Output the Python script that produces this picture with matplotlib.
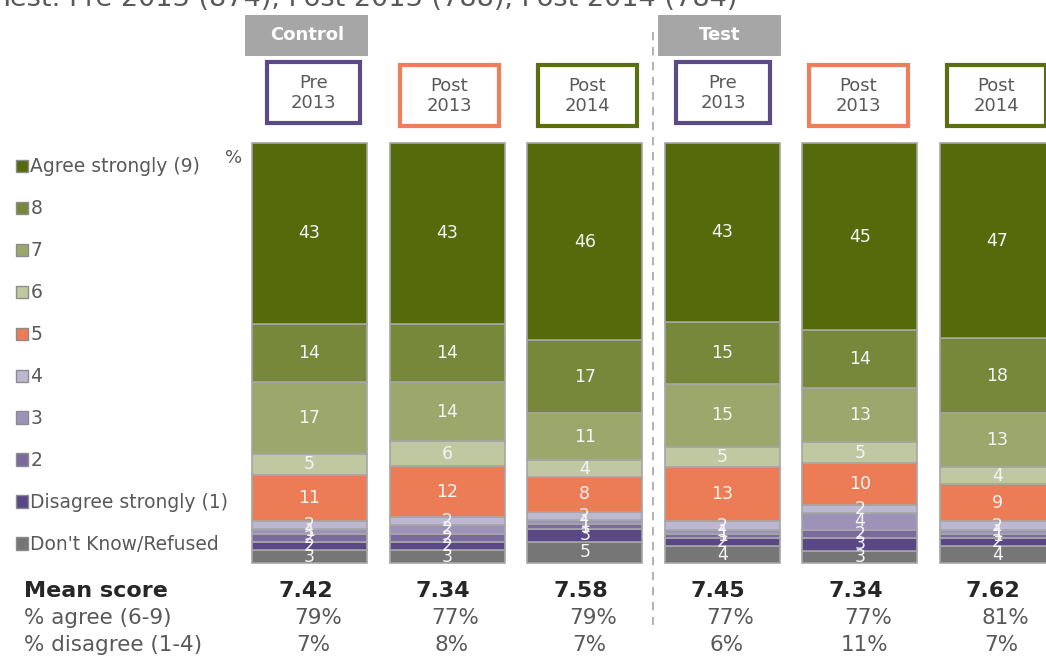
import matplotlib
matplotlib.use("Agg")
import matplotlib.pyplot as plt
from matplotlib.patches import Rectangle, Patch
from matplotlib.lines import Line2D
from matplotlib.transforms import blended_transform_factory

plt.rcParams['font.family'] = ['DejaVu Sans']

# survey waves (one stacked bar each)
groups = ["Control", "Test"]
waves = ["Pre\n2013", "Post\n2013", "Post\n2014", "Pre\n2013", "Post\n2013", "Post\n2014"]

# answer categories, bottom of the stack first
categories = ["Don't Know/Refused", "Disagree strongly (1)", "2", "3", "4",
              "5", "6", "7", "8", "Agree strongly (9)"]

dk = [3, 3, 5, 4, 3, 4]
s1 = [2, 2, 3, 2, 3, 2]
s2 = [2, 2, 1, 1, 2, 1]
s3 = [1, 2, 1, 1, 4, 1]
s4 = [2, 2, 2, 2, 2, 2]
s5 = [11, 12, 8, 13, 10, 9]
s6 = [5, 6, 4, 5, 5, 4]
s7 = [17, 14, 11, 15, 13, 13]
s8 = [14, 14, 17, 15, 14, 18]
s9 = [43, 43, 46, 43, 45, 47]
series = [dk, s1, s2, s3, s4, s5, s6, s7, s8, s9]

mean_score = ["7.42", "7.34", "7.58", "7.45", "7.34", "7.62"]
pct_agree = ["79%", "77%", "79%", "77%", "77%", "81%"]
pct_disagree = ["7%", "8%", "7%", "6%", "11%", "7%"]

base_note = "Test: Pre 2013 (874), Post 2013 (788), Post 2014 (784)"

colors = ["#767676", "#5a4786", "#7b6a9e", "#9d93b8", "#bdb7d1",
          "#ec7c55", "#c0c8a2", "#9ba76b", "#77883a", "#556a0b"]
wave_colors = ["#5b4a87", "#ef7f5a", "#5b6e10"] * 2
edge = "#a6a6a6"
text_grey = "#595959"

W, H = 1046, 657
fig = plt.figure(figsize=(W / 100, H / 100), dpi=100)

# bars: centres 137.6 px apart, plot area from y=143 to y=563 px
step = 137.6
x_left = 309.5 - step / 2
ax = fig.add_axes([x_left / W, 1 - 563 / H, 6 * step / W, 420 / H])
ax.set_xlim(-0.5, 5.5)
ax.set_ylim(0, 100)
ax.axis("off")

xs = list(range(len(waves)))
# 100% stacked: each bar scaled by its own total
totals = [sum(col) for col in zip(*series)]
bottoms = [0.0] * len(xs)
handles = []
for vals, col, cat in zip(series, colors, categories):
    shares = [v / t * 100 for v, t in zip(vals, totals)]
    ax.bar(xs, shares, width=0.836, bottom=bottoms, color=col,
           edgecolor=edge, linewidth=1.2, label=cat, clip_on=False)
    for x, v, sh, b in zip(xs, vals, shares, bottoms):
        ax.text(x, b + sh / 2, str(v), ha="center", va="center",
                color="#f4f4f4", fontsize=12.5)
    bottoms = [b + sh for b, sh in zip(bottoms, shares)]
    handles.append(Patch(facecolor=col, edgecolor="#8c8c8c", linewidth=1, label=cat))

tr = blended_transform_factory(ax.transData, fig.transFigure)

def fy(py):
    return 1 - py / H

# group headers
for g, x in zip(groups, [0, 3]):
    ax.add_patch(Rectangle((x - 0.47, fy(56)), 0.894, 41 / H, transform=tr,
                           facecolor="#a6a6a6", edgecolor="none", clip_on=False))
    ax.text(x - 0.02, fy(35.5), g, transform=tr, ha="center", va="center",
            color="white", fontsize=13, fontweight="bold")

# wave boxes
box_top = [62, 65, 65, 62, 65, 65]
box_dx = [0.03, 0.015, 0.02, 0.005, -0.01, -0.01]
for x, lab, col, top, dx in zip(xs, waves, wave_colors, box_top, box_dx):
    w = 0.68 if lab.startswith("Pre") else 0.72
    ax.add_patch(Rectangle((x + dx - w / 2, fy(top + 61)), w, 61 / H, transform=tr,
                           facecolor="white", edgecolor=col, linewidth=3, clip_on=False))
    ax.text(x + dx, fy(top + 31), lab, transform=tr, ha="center", va="center",
            color=text_grey, fontsize=13, linespacing=1.15)

# divider between control and test
fig.add_artist(Line2D([653 / W, 653 / W], [fy(32), fy(625)], color="#a6a6a6",
                      linestyle=(0, (5, 4)), linewidth=1.2))

# legend, top category first
fig.legend(handles=handles[::-1], loc="upper left", bbox_to_anchor=(8 / W, fy(150)),
           frameon=False, fontsize=13.5, handlelength=0.65, handleheight=0.65,
           handletextpad=0.15, labelspacing=1.225, borderaxespad=0,
           labelcolor=text_grey)
fig.text(234 / W, fy(158), "%", ha="center", va="center", color=text_grey, fontsize=13)

# summary rows
fig.text(24 / W, fy(591), "Mean score", ha="left", va="center",
         color="#262626", fontsize=16, fontweight="bold")
fig.text(24 / W, fy(618), "% agree (6-9)", ha="left", va="center",
         color=text_grey, fontsize=15.5)
fig.text(24 / W, fy(645), "% disagree (1-4)", ha="left", va="center",
         color=text_grey, fontsize=15.5)
for x, m, a, d in zip(xs, mean_score, pct_agree, pct_disagree):
    ax.text(x - 0.03, fy(591), m, transform=tr, ha="center", va="center",
            color="#262626", fontsize=16, fontweight="bold", clip_on=False)
    ax.text(x + 0.06, fy(618), a, transform=tr, ha="center", va="center",
            color=text_grey, fontsize=15.5, clip_on=False)
    ax.text(x + 0.03, fy(645), d, transform=tr, ha="center", va="center",
            color=text_grey, fontsize=15.5, clip_on=False)

fig.text(737 / W, fy(6.5), base_note, ha="right", va="baseline",
         color=text_grey, fontsize=19.5)

fig.savefig("out.png", dpi=100)
